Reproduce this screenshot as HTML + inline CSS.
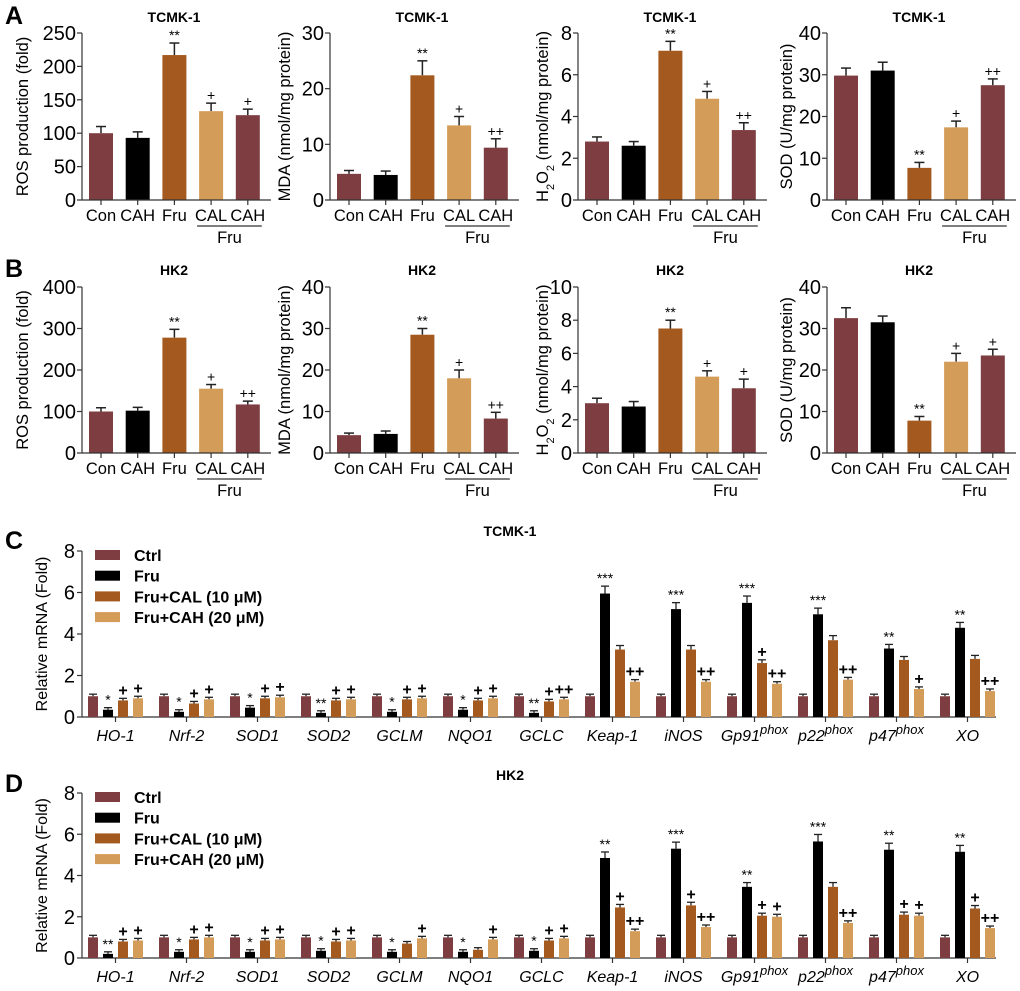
<!DOCTYPE html>
<html><head><meta charset="utf-8">
<style>
body{margin:0;background:#fff;}
svg{display:block;font-family:"Liberation Sans",Arial,sans-serif;}
</style></head>
<body>
<svg id="fig" width="1020" height="991" viewBox="0 0 1020 991"></svg>
<script>
// ---- Panel A/B data ----
const groupsAB = ["Con","CAH","Fru","CAL","CAH"];
const aROS = [100,93,217,133,127], aROSerr=[10,9,18,12,9], aROSsig=["","","**","+","+"];
const aMDA = [4.7,4.5,22.4,13.4,9.4], aMDAerr=[0.6,0.7,2.6,1.6,1.6], aMDAsig=["","","**","+","++"];
const aH2O2 = [2.8,2.6,7.15,4.85,3.35], aH2O2err=[0.22,0.2,0.45,0.35,0.35], aH2O2sig=["","","**","+","++"];
const aSOD = [29.8,31,7.7,17.4,27.5], aSODerr=[1.8,2,1.3,1.5,1.5], aSODsig=["","","**","+","++"];
const bROS = [100,102,278,155,117], bROSerr=[9,8,20,10,8], bROSsig=["","","**","+","++"];
const bMDA = [4.3,4.6,28.5,18,8.3], bMDAerr=[0.5,0.7,1.5,2,1.5], bMDAsig=["","","**","+","++"];
const bH2O2 = [3.0,2.8,7.5,4.6,3.9], bH2O2err=[0.3,0.3,0.5,0.35,0.55], bH2O2sig=["","","**","+","+"];
const bSOD = [32.5,31.5,7.8,22,23.5], bSODerr=[2.5,1.5,1,2,1.5], bSODsig=["","","**","+","+"];
// ---- Panel C/D data ----
const genes = ["HO-1","Nrf-2","SOD1","SOD2","GCLM","NQO1","GCLC","Keap-1","iNOS","Gp91","p22","p47","XO"];
const geneSup = ["","","","","","","","","","phox","phox","phox",""];
const seriesNames = ["Ctrl","Fru","Fru+CAL  (10 \u03bcM)","Fru+CAH (20 \u03bcM)"];
const cCtrl=[1,1,1,1,1,1,1,1,1,1,1,1,1];
const cFru=[0.35,0.25,0.45,0.2,0.25,0.35,0.2,5.95,5.2,5.5,4.95,3.3,4.3];
const cCAL=[0.8,0.65,0.9,0.8,0.85,0.8,0.75,3.25,3.25,2.6,3.7,2.75,2.8];
const cCAH=[0.9,0.85,0.95,0.85,0.9,0.9,0.85,1.7,1.7,1.6,1.8,1.35,1.25];
const cFruSig=["*","*","*","**","*","*","**","***","***","***","***","**","**"];
const cCALSig=["+","+","+","+","+","+","+","","","+","","",""];
const cCAHSig=["+","+","+","+","+","+","++","++","++","++","++","+","++"];
const dCtrl=[1,1,1,1,1,1,1,1,1,1,1,1,1];
const dFru=[0.2,0.3,0.3,0.35,0.3,0.3,0.35,4.85,5.3,3.45,5.65,5.25,5.15];
const dCAL=[0.8,0.9,0.85,0.8,0.7,0.4,0.85,2.45,2.55,2.05,3.45,2.1,2.4];
const dCAH=[0.85,1.0,0.9,0.85,0.95,0.9,0.95,1.3,1.5,2.0,1.7,2.05,1.45];
const dFruSig=["**","*","*","*","*","*","*","**","***","**","***","**","**"];
const dCALSig=["+","+","+","+","","","+","+","+","+","","+","+"];
const dCAHSig=["+","+","+","+","+","+","+","++","++","+","++","+","++"];

const NS="http://www.w3.org/2000/svg";
const svg=document.getElementById('fig');
const COL=["#7e3d41","#000000","#a45a1e","#d39c58"];
function mk(tag,attrs,parent,text){const e=document.createElementNS(NS,tag);for(const k in attrs)e.setAttribute(k,attrs[k]);if(text!==undefined)e.textContent=text;(parent||svg).appendChild(e);return e;}

function smallChart(x0,ytx,y0,yTop,ymax,step,vals,errs,sigs,title,ylabelHTML,name,panelTop){
  const g=mk('g',{});
  
  
  const sy=v=>y0-(v/ymax)*(y0-yTop);
  const bx=i=>x0+19+i*36.7;
  const barCols=[COL[0],COL[1],COL[2],COL[3],COL[0]];
  const t=mk('text',{x:x0+92,y:panelTop,'text-anchor':'middle','font-size':14,'font-weight':'bold'},g,title);
  
  
  vals.forEach((v,i)=>{
    const cx=bx(i), top=sy(v), et=sy(v+errs[i]);
    mk('line',{x1:cx,x2:cx,y1:top,y2:et,stroke:'#222','stroke-width':1.5},g);
    mk('line',{x1:cx-5,x2:cx+5,y1:et,y2:et,stroke:'#222','stroke-width':1.5},g);
    const r=mk('rect',{x:cx-12,y:top,width:24,height:y0-top,fill:barCols[i]},g);
    
    
    if(sigs[i]) mk('text',{x:cx,y:et-3,'text-anchor':'middle','font-size':14},g,sigs[i]);
    mk('line',{x1:cx,x2:cx,y1:y0,y2:y0+5,stroke:'#333','stroke-width':1.2},g);
    mk('text',{x:cx,y:y0+21,'text-anchor':'middle','font-size':16.5},g,groupsAB[i]);
  });
  mk('line',{x1:x0,x2:x0,y1:yTop,y2:y0,stroke:'#333','stroke-width':1.2},g);
  mk('line',{x1:x0,x2:x0+189,y1:y0,y2:y0,stroke:'#333','stroke-width':1.2},g);
  for(let v=0;v<=ymax+1e-9;v+=step){
    const y=sy(v);
    mk('line',{x1:x0-5,x2:x0,y1:y,y2:y,stroke:'#333','stroke-width':1.2},g);
    mk('text',{x:x0-6,y:y+7,'text-anchor':'end','font-size':20},g,String(Math.round(v*10)/10));
  }
  mk('line',{x1:bx(3)-14,x2:bx(4)+14,y1:y0+26,y2:y0+26,stroke:'#333','stroke-width':1.2},g);
  mk('text',{x:(bx(3)+bx(4))/2,y:y0+43,'text-anchor':'middle','font-size':16.5},g,'Fru');
  const yl=mk('text',{transform:`translate(${ytx},${(y0+yTop)/2}) rotate(-90)`,'text-anchor':'middle','font-size':16.5},g);
  yl.innerHTML=ylabelHTML;
  
  
}
const xs=[82,330,578,827];
const ytxs=[28,290,548,792];
const H2='H<tspan baseline-shift="sub" font-size="11">2</tspan>O<tspan baseline-shift="sub" font-size="11">2</tspan> (nmol/mg protein)';
// Panel A
smallChart(xs[0],ytxs[0],200,33,250,50,aROS,aROSerr,aROSsig,'TCMK-1','ROS production (fold)','chart-a-ros',22);
smallChart(xs[1],ytxs[1],200,33,30,10,aMDA,aMDAerr,aMDAsig,'TCMK-1','MDA (nmol/mg protein)','chart-a-mda',22);
smallChart(xs[2],ytxs[2],200,33,8,2,aH2O2,aH2O2err,aH2O2sig,'TCMK-1',H2,'chart-a-h2o2',22);
smallChart(xs[3],ytxs[3],200,33,40,10,aSOD,aSODerr,aSODsig,'TCMK-1','SOD (U/mg protein)','chart-a-sod',22);
// Panel B
smallChart(xs[0],ytxs[0],453,287,400,100,bROS,bROSerr,bROSsig,'HK2','ROS production (fold)','chart-b-ros',275);
smallChart(xs[1],ytxs[1],453,287,40,10,bMDA,bMDAerr,bMDAsig,'HK2','MDA (nmol/mg protein)','chart-b-mda',275);
smallChart(xs[2],ytxs[2],453,287,10,2,bH2O2,bH2O2err,bH2O2sig,'HK2',H2,'chart-b-h2o2',275);
smallChart(xs[3],ytxs[3],453,287,40,10,bSOD,bSODerr,bSODsig,'HK2','SOD (U/mg protein)','chart-b-sod',275);

function bigChart(y0,yTop,series,sigF,sigL,sigH,title,titleY,name){
  const g=mk('g',{});
  
  
  const x0=82, ymax=8;
  const sy=v=>y0-(v/ymax)*(y0-yTop);
  const gc=i=>115.5+i*71;
  const t=mk('text',{x:510,y:titleY,'text-anchor':'middle','font-size':14,'font-weight':'bold'},g,title);
  
  
  mk('line',{x1:x0,x2:996,y1:y0,y2:y0,stroke:'#333','stroke-width':1.2},g);
  mk('line',{x1:x0,x2:x0,y1:yTop,y2:y0,stroke:'#333','stroke-width':1.2},g);
  for(let v=0;v<=ymax;v+=2){const y=sy(v);
    mk('line',{x1:x0-5,x2:x0,y1:y,y2:y,stroke:'#333','stroke-width':1.2},g);
    mk('text',{x:x0-7,y:y+7,'text-anchor':'end','font-size':20},g,String(v));}
  const yl=mk('text',{transform:`translate(47,${(y0+yTop)/2}) rotate(-90)`,'text-anchor':'middle','font-size':16},g,'Relative mRNA (Fold)');
  
  
  const sigs=[null,sigF,sigL,sigH];
  genes.forEach((gn,i)=>{
    series.forEach((arr,s)=>{
      const cx=gc(i)-22.5+s*15, v=arr[i], top=sy(v);
      const err=Math.max(0.1,v*0.06), et=sy(v+err);
      mk('line',{x1:cx,x2:cx,y1:top,y2:et,stroke:'#222','stroke-width':1.3},g);
      mk('line',{x1:cx-4,x2:cx+4,y1:et,y2:et,stroke:'#222','stroke-width':1.3},g);
      const r=mk('rect',{x:cx-5,y:top,width:10,height:y0-top,fill:COL[s]},g);
      
      
      if(sigs[s]&&sigs[s][i]) mk('text',{x:cx,y:et-3,'text-anchor':'middle','font-size':s==1?14:16,'font-weight':s==1?'normal':'bold'},g,sigs[s][i]);
    });
    mk('line',{x1:gc(i),x2:gc(i),y1:y0,y2:y0+5,stroke:'#333','stroke-width':1.2},g);
    const lt=mk('text',{x:gc(i),y:y0+24,'text-anchor':'middle','font-size':16,'font-style':'italic'},g);
    lt.innerHTML=gn+(geneSup[i]?`<tspan baseline-shift="super" font-size="13">${geneSup[i]}</tspan>`:'');
  });
  const lg=mk('g',{},g);
  
  
  seriesNames.forEach((n,s)=>{
    const y=yTop+4+s*20.7;
    mk('rect',{x:95,y:y-5,width:25,height:10,fill:COL[s]},lg);
    mk('text',{x:134,y:y+6,'font-size':16,'font-weight':'bold','xml:space':'preserve'},lg,n);
  });
}
bigChart(717,551,[cCtrl,cFru,cCAL,cCAH],cFruSig,cCALSig,cCAHSig,'TCMK-1',536,'chart-c');
bigChart(958,793,[dCtrl,dFru,dCAL,dCAH],dFruSig,dCALSig,dCAHSig,'HK2',780,'chart-d');

[['A',5,24],['B',5,277],['C',5,549],['D',5,792]].forEach(([l,x,y])=>{
  const t=mk('text',{x:x,y:y,'font-size':25,'font-weight':'bold'},svg,l);
  
  
});
</script>
</body></html>
